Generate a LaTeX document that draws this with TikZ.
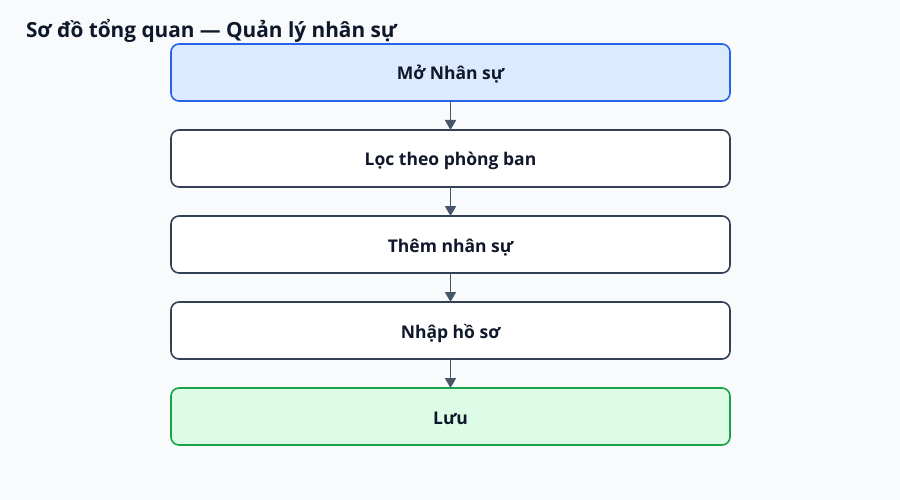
\documentclass[tikz,border=0pt]{standalone}
\usepackage{fontspec}
\setmainfont{Open Sans}
\usetikzlibrary{positioning,arrows.meta}

\definecolor{pagebg}{HTML}{F8FAFC}
\definecolor{textcol}{HTML}{0F172A}
\definecolor{linecol}{HTML}{334155}
\definecolor{arrowcol}{HTML}{475569}
\definecolor{startfill}{HTML}{DBEAFE}
\definecolor{startline}{HTML}{2563EB}
\definecolor{endfill}{HTML}{DCFCE7}
\definecolor{endline}{HTML}{16A34A}

\tikzset{
  stepbox/.style={draw=linecol, fill=white, line width=1.6pt, rounded corners=8pt,
    minimum width=559pt, minimum height=57pt, inner sep=0pt, outer sep=0pt,
    text height=17pt, text depth=2pt,
    text=textcol, font=\fontsize{17.5}{20}\selectfont\bfseries},
  startbox/.style={stepbox, draw=startline, fill=startfill},
  endbox/.style={stepbox, draw=endline, fill=endfill},
  flow/.style={draw=arrowcol, line width=1.8pt, -{Triangle[length=10pt,width=11pt]}}
}

\begin{document}
\begin{tikzpicture}[x=1pt, y=-1pt, node distance=29pt]

    \fill[pagebg] (0,0) rectangle (900,500);

    \node[anchor=base west, text=textcol, font=\fontsize{20.8}{24}\selectfont\bfseries]
        (title) at (22.5,37.5) {Sơ đồ tổng quan — Quản lý nhân sự};

    \node[startbox] (open) at (450.5,72.5) {Mở Nhân sự};
    \node[stepbox, below=of open]   (filter) {Lọc theo phòng ban};
    \node[stepbox, below=of filter] (add)    {Thêm nhân sự};
    \node[stepbox, below=of add]    (input)  {Nhập hồ sơ};
    \node[endbox, below=of input]   (save)   {Lưu};

    \draw[flow] (open) -- (filter);
    \draw[flow] (filter) -- (add);
    \draw[flow] (add) -- (input);
    \draw[flow] (input) -- (save);
\end{tikzpicture}
\end{document}
